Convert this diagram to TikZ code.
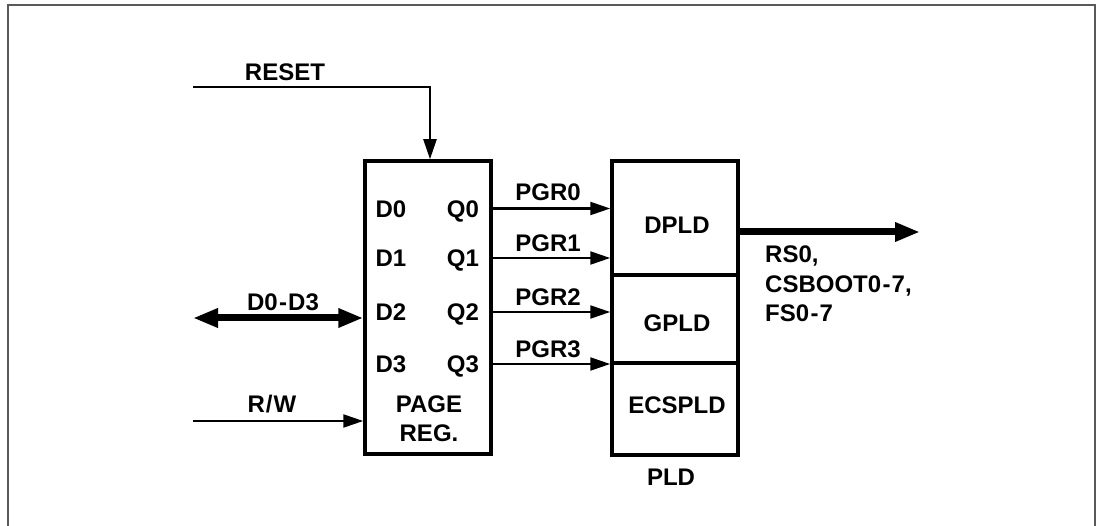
\documentclass[tikz,border=0pt]{standalone}
\usepackage{fontspec}
\setmainfont{Liberation Sans}
\usetikzlibrary{arrows.meta,positioning}
\newcommand{\hy}{\kern1.5pt-\kern1pt}
\begin{document}
\begin{tikzpicture}[x=1pt,y=-1pt,
  txt/.style={font=\fontsize{24}{29.5}\selectfont\bfseries, inner sep=0pt, text height=17.2pt, text depth=0pt},
  blk/.style={draw, line width=3.5pt, rectangle, inner sep=0pt},
  thin/.style={line width=2.2pt, -{Triangle[length=20pt,width=13pt]}},
  thick/.style={line width=7pt, -{Triangle[length=25pt,width=18pt]}},
  thickboth/.style={line width=7pt, {Triangle[length=25pt,width=18pt]}-{Triangle[length=25pt,width=18pt]}},
  frame/.style={draw=black!65, line width=1.5pt}]
\useasboundingbox (0,0) rectangle (1097,526);
% outer frame
\draw[frame] (8,526) -- (8,5) -- (1095,5) -- (1095,526);
% page register
\node[blk, minimum width=126pt, minimum height=293pt] (page) at (428,307.5) {};
\node[txt] (d0) at (391,208.5) {D0};
\node[txt] (d1) at (391,258) {D1};
\node[txt] (d2) at (391,312) {D2};
\node[txt] (d3) at (391,364) {D3};
\node[txt] (q0) at (463,208.5) {Q0};
\node[txt] (q1) at (463,258) {Q1};
\node[txt] (q2) at (463,312) {Q2};
\node[txt] (q3) at (463,364) {Q3};
\node[txt] (pagel) at (429,404) {PAGE};
\node[txt] (regl) at (429,433) {REG.};
% PLD
\node[blk, minimum width=126pt, minimum height=114pt] (dpld) at (675,218) {};
\node[blk, minimum width=126pt, minimum height=88pt] (gpld) at (675,319) {};
\node[blk, minimum width=126pt, minimum height=92pt] (ecspld) at (675,409) {};
\node[txt] (dpldl) at (677,224.5) {DPLD};
\node[txt] (gpldl) at (677,323) {GPLD};
\node[txt] (ecspldl) at (677,405) {ECSPLD};
\node[txt] (pldl) at (671,477) {PLD};
% PGR connectors
\draw[thin] (page.east |- q0) -- (dpld.west |- q0);
\draw[thin] (page.east |- q1) -- (dpld.west |- q1);
\draw[thin] (page.east |- q2) -- (gpld.west |- q2);
\draw[thin] (page.east |- q3) -- (gpld.west |- q3);
\node[txt] (pgr0) at (548,192) {PGR0};
\node[txt] (pgr1) at (548,243) {PGR1};
\node[txt] (pgr2) at (548,297) {PGR2};
\node[txt] (pgr3) at (548,349) {PGR3};
% RESET
\coordinate (rst) at (193,87);
\draw[thin] (rst) -| ([xshift=2pt]page.north);
\node[txt] (rstl) at (285,72) {RESET};
% D0-D3 bus
\coordinate (bus) at (193,318);
\draw[thickboth] (bus) -- (page.west |- bus);
\node[txt] (busl) at (283,302) {D0\hy D3};
% R/W
\coordinate (rw) at (193,421);
\draw[thin] (rw) -- (page.west |- rw);
\node[txt] (rwl) at (272,404) {R\kern1pt/\kern1pt W};
% output
\coordinate (outend) at (920,232);
\draw[thick] (dpld.east |- outend) -- (outend);
\node[txt, anchor=west] (outl1) at (765,254) {RS0,};
\node[txt, anchor=west] (outl2) at (765,283.5) {CSBOOT0\hy 7,};
\node[txt, anchor=west] (outl3) at (765,313) {FS0\hy 7};
\end{tikzpicture}
\end{document}
